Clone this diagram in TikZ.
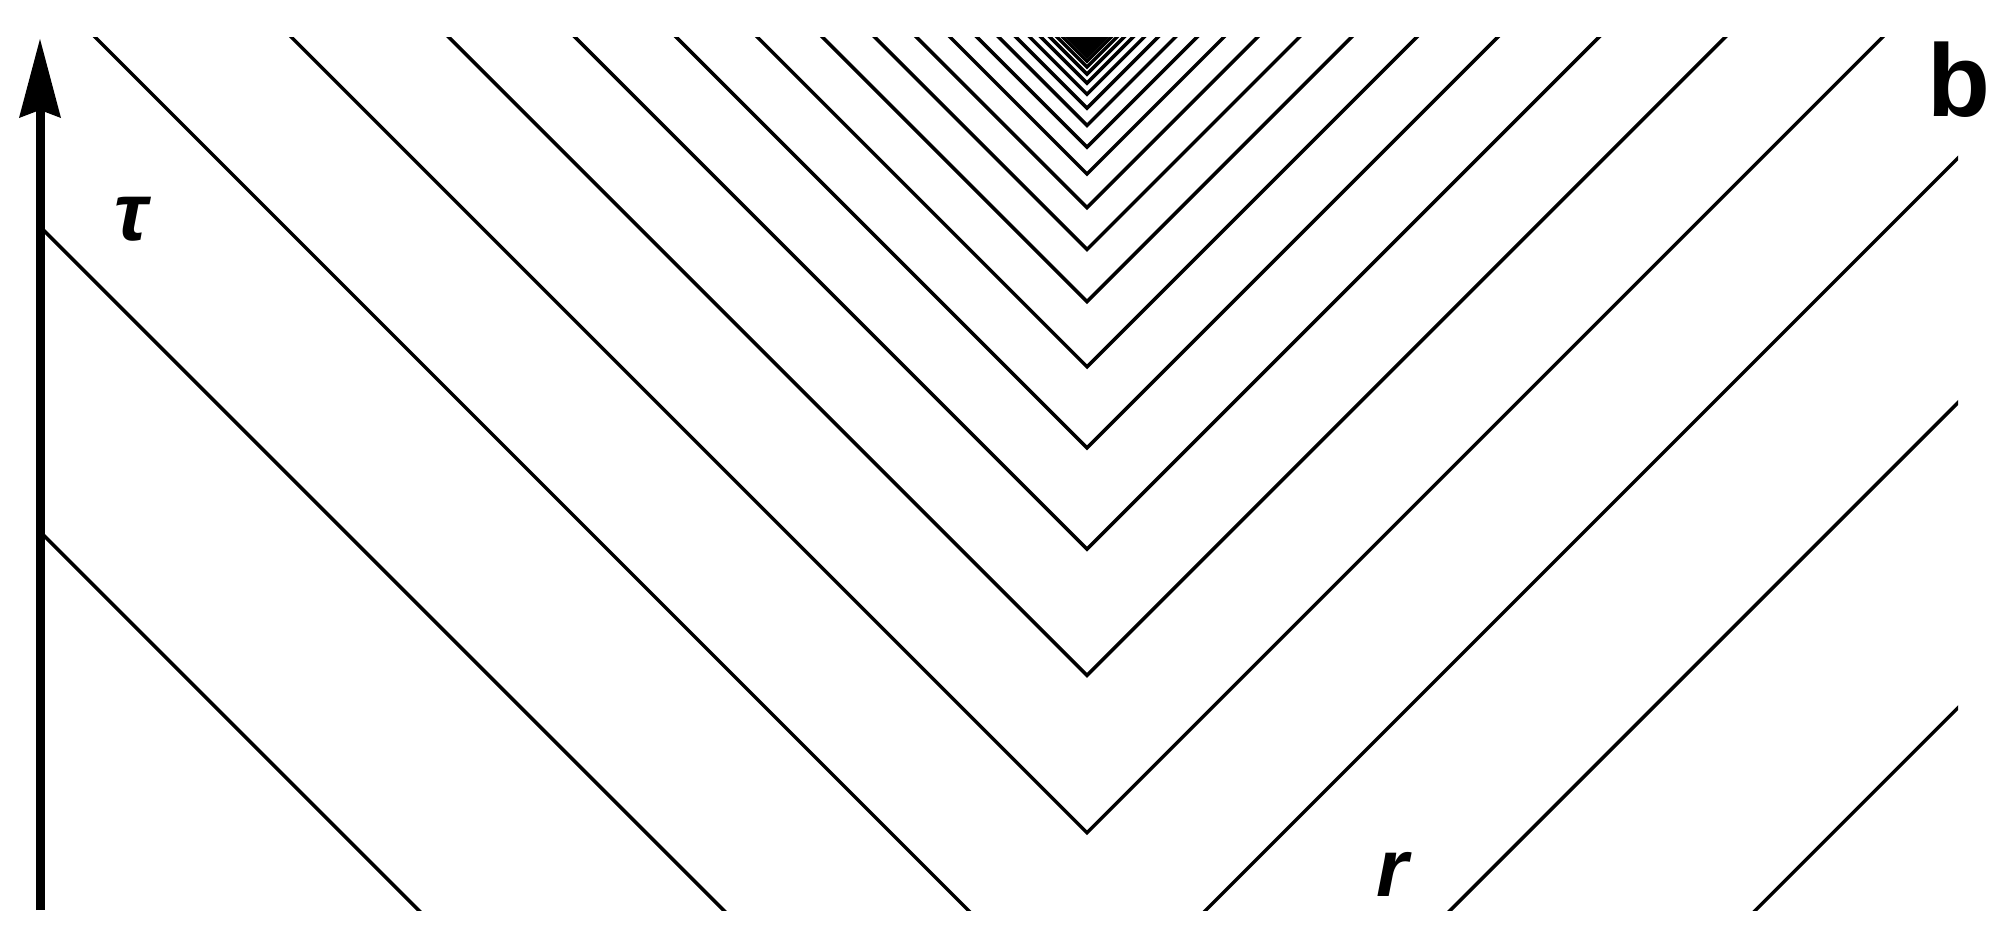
\documentclass[tikz,border=0pt]{standalone}
\usepackage{fontspec}
\setmainfont{Liberation Sans}
\usetikzlibrary{arrows.meta}
\begin{document}
\begin{tikzpicture}[x=1pt,y=-1pt,
  nullline/.style={line width=3.5pt, line join=miter},
  axisline/.style={line width=9pt, -{Stealth[length=79pt,width=42pt,inset=8pt,line width=0pt]}},
  lbl/.style={font=\fontsize{82}{100}\selectfont\bfseries\itshape, inner sep=0pt, anchor=base},
  panel/.style={font=\fontsize{103}{120}\selectfont\bfseries, inner sep=0pt, anchor=base}]
\useasboundingbox (0,0) rectangle (2000,950);
\coordinate (apex) at (1087,38);
\begin{scope}
\clip (40,38) rectangle (1958,910);
\foreach \n in {0,...,45}{
  \pgfmathsetmacro\d{1540.7*0.802^\n}
  \draw[nullline] ([shift={(-\d-40,-40)}]apex) -- ([shift={(0,\d)}]apex) -- ([shift={(\d+40,-40)}]apex);
}
\end{scope}
\coordinate (ax0) at (40,910);
\coordinate (ax1) at (40,39);
\draw[axisline] (ax0) -- (ax1);
\node[lbl] (tau) at (131,240) {τ};
\node[lbl] (r) at (1392,896) {r};
\node[panel] (b) at (1959,117) {b};
\end{tikzpicture}
\end{document}
